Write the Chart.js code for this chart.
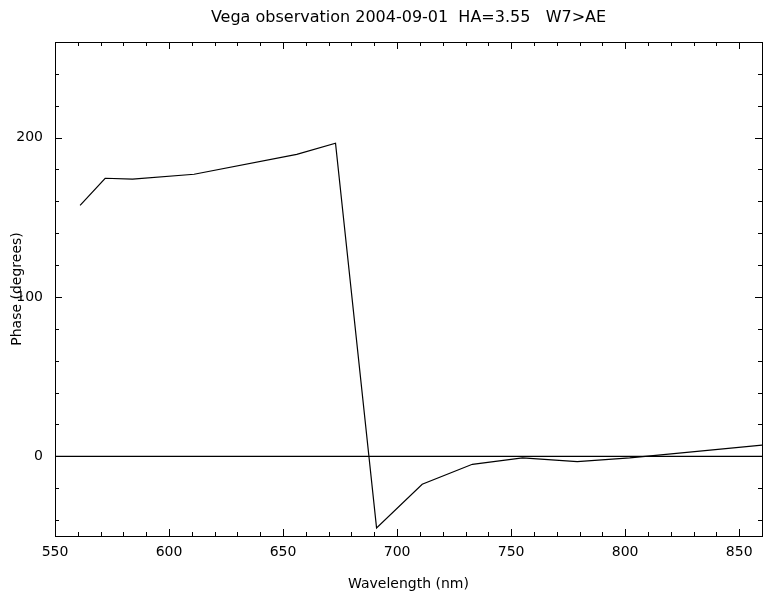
<!DOCTYPE html>
<html>
<head>
<meta charset="utf-8">
<script src="https://cdn.jsdelivr.net/npm/chart.js@4.4.1/dist/chart.umd.min.js"></script>
<style>
  html, body { margin: 0; padding: 0; background: #fff; }
  #wrap { width: 763px; height: 593px; }
</style>
</head>
<body>
<div id="wrap"><canvas id="c" width="763" height="593"></canvas></div>
<script>
const titleText = "Vega observation 2004-09-01  HA=3.55   W7>AE";
const xTitle = "Wavelength (nm)";
const yTitle = "Phase (degrees)";
const wavelengths = [561, 572, 584, 611, 656, 673, 691, 711, 733, 755, 779, 802, 860];
const phase = [157.5, 174.5, 174, 177, 189.5, 196.5, -45, -17.5, -5, -1, -3.3, -1, 7];
const xMajorTicks = [550, 600, 650, 700, 750, 800, 850];
const yMajorTicks = [0, 100, 200];
const xRange = [550, 860];
const yRange = [-50, 260];
const xMinorStep = 10;
const yMinorStep = 20;

const FONT = "'DejaVu Sans', 'Liberation Sans', sans-serif";

const inwardTicks = {
  id: 'inwardTicks',
  afterDraw(chart) {
    const ctx = chart.ctx;
    const a = chart.chartArea;
    const xs = chart.scales.x, ys = chart.scales.y;
    ctx.save();
    ctx.strokeStyle = '#000';
    ctx.lineWidth = 1;
    ctx.beginPath();
    for (let v = xRange[0]; v <= xRange[1]; v += xMinorStep) {
      const major = xMajorTicks.includes(v);
      const len = major ? 7 : 4;
      const px = Math.round(xs.getPixelForValue(v)) + 0.5;
      ctx.moveTo(px, a.bottom); ctx.lineTo(px, a.bottom - len);
      ctx.moveTo(px, a.top); ctx.lineTo(px, a.top + len);
    }
    for (let v = -40; v <= yRange[1]; v += yMinorStep) {
      const major = yMajorTicks.includes(v);
      const len = major ? 7 : 4;
      const py = Math.round(ys.getPixelForValue(v)) + 0.5;
      ctx.moveTo(a.left, py); ctx.lineTo(a.left + len, py);
      ctx.moveTo(a.right, py); ctx.lineTo(a.right - len, py);
    }
    ctx.stroke();
    ctx.strokeRect(Math.round(a.left) + 0.5, Math.round(a.top) + 0.5,
                   Math.round(a.right - a.left), Math.round(a.bottom - a.top));
    ctx.restore();
  }
};

new Chart(document.getElementById('c'), {
  type: 'line',
  data: {
    datasets: [
      {
        data: wavelengths.map((w, i) => ({ x: w, y: phase[i] })),
        borderColor: '#000', borderWidth: 1.2, pointRadius: 0, tension: 0, fill: false
      },
      {
        data: [{ x: xRange[0], y: 0 }, { x: xRange[1], y: 0 }],
        borderColor: '#000', borderWidth: 1.2, pointRadius: 0, fill: false
      }
    ]
  },
  options: {
    responsive: false,
    animation: false,
    events: [],
    layout: { padding: { top: 0, right: 1, bottom: 0, left: 0 } },
    plugins: {
      legend: { display: false },
      tooltip: { enabled: false },
      title: {
        display: true,
        text: titleText,
        fullSize: false,
        color: '#000',
        font: { family: FONT, size: 16, weight: 'normal', lineHeight: '16px' },
        padding: { top: 10, bottom: 16 }
      }
    },
    scales: {
      x: {
        type: 'linear',
        min: xRange[0], max: xRange[1],
        afterBuildTicks: s => { s.ticks = xMajorTicks.map(v => ({ value: v })); },
        afterFit: s => { s.height = 57; },
        grid: { display: false, drawTicks: false },
        border: { display: false },
        ticks: { color: '#000', padding: 8, maxRotation: 0, autoSkip: false,
                 font: { family: FONT, size: 14 } },
        title: { display: true, text: xTitle, color: '#000', padding: { top: 10, bottom: 0 },
                 font: { family: FONT, size: 14 } }
      },
      y: {
        type: 'linear',
        min: yRange[0], max: yRange[1],
        afterBuildTicks: s => { s.ticks = yMajorTicks.map(v => ({ value: v })); },
        afterFit: s => { s.width = 55; },
        grid: { display: false, drawTicks: false },
        border: { display: false },
        ticks: { color: '#000', padding: 12, autoSkip: false,
                 font: { family: FONT, size: 14 } },
        title: { display: true, text: yTitle, color: '#000', padding: { top: 9, bottom: 0 },
                 font: { family: FONT, size: 14 } }
      }
    }
  },
  plugins: [inwardTicks]
});
</script>
</body>
</html>
